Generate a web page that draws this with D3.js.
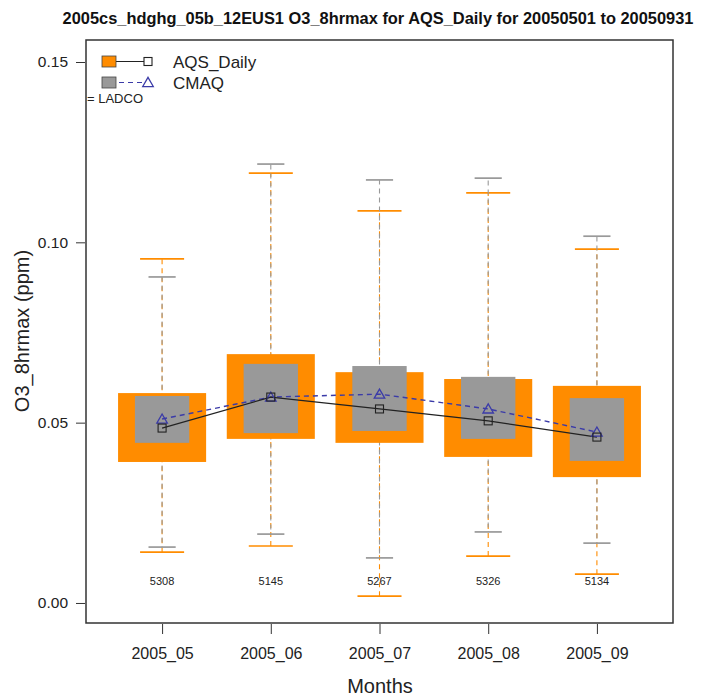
<!DOCTYPE html>
<html><head><meta charset="utf-8">
<script src="https://cdn.jsdelivr.net/npm/d3@7"></script>
<style>body{margin:0;background:#fff}svg{display:block}</style>
</head><body>
<script>
const months = ["2005_05","2005_06","2005_07","2005_08","2005_09"];
const counts = [5308,5145,5267,5326,5134];
const yTicks = [0.00,0.05,0.10,0.15];
const yTickLabels = ["0.00","0.05","0.10","0.15"];
// AQS_Daily (observations)
const aqsLo  = [0.0141,0.0158,0.0019,0.0130,0.0080];
const aqsQ1  = [0.0391,0.0455,0.0444,0.0405,0.0349];
const aqsMed = [0.0485,0.0571,0.0538,0.0505,0.0460];
const aqsQ3  = [0.0582,0.0690,0.0640,0.0621,0.0602];
const aqsHi  = [0.0954,0.1192,0.1087,0.1137,0.0981];
// CMAQ (model)
const cmaqLo  = [0.0155,0.0191,0.0125,0.0197,0.0166];
const cmaqQ1  = [0.0444,0.0471,0.0477,0.0455,0.0394];
const cmaqMed = [0.0510,0.0571,0.0579,0.0538,0.0474];
const cmaqQ3  = [0.0574,0.0663,0.0657,0.0627,0.0568];
const cmaqHi  = [0.0904,0.1217,0.1173,0.1178,0.1017];

const W = 717, H = 696;
const L = 86, R = 673, T = 40, B = 623;
const FONT = "'Liberation Sans', Arial, Helvetica, sans-serif";
const ORANGE = "#ff8c00", GRAY = "#999999", BLUE = "#3b3ba8";

const svg = d3.select("body").append("svg").attr("width", W).attr("height", H)
  .style("font-family", FONT);

const x = d3.scaleLinear().domain([0.3, 5.7]).range([L, R]);
const y = d3.scaleLinear().domain([-0.00555, 0.1561]).range([B, T]);
const idx = months.map((m, i) => i + 1);

function series(lo, q1, med, q3, hi, color, boxW) {
  return months.map((m, i) => ({i: i + 1, lo: lo[i], q1: q1[i], med: med[i], q3: q3[i], hi: hi[i], color, boxW}));
}
const aqs = series(aqsLo, aqsQ1, aqsMed, aqsQ3, aqsHi, ORANGE, 0.81);
const cmaq = series(cmaqLo, cmaqQ1, cmaqMed, cmaqQ3, cmaqHi, GRAY, 0.5);

const plot = svg.append("g");

function drawWhiskers(data, dashOffset) {
  const g = plot.append("g");
  data.forEach(d => {
    const cx = x(d.i);
    const cap = (x(d.boxW) - x(0)) / 2;
    g.append("line").attr("x1", cx).attr("x2", cx).attr("y1", y(d.lo)).attr("y2", y(d.hi))
      .attr("stroke", d.color).attr("stroke-width", 1.1).attr("stroke-dasharray", "5,4")
      .attr("stroke-dashoffset", dashOffset);
    [d.lo, d.hi].forEach(v => {
      g.append("line").attr("x1", cx - cap / 2).attr("x2", cx + cap / 2)
        .attr("y1", y(v)).attr("y2", y(v)).attr("stroke", d.color).attr("stroke-width", 1.7);
    });
  });
}
function drawBoxes(data) {
  plot.append("g").selectAll("rect").data(data).join("rect")
    .attr("x", d => x(d.i - d.boxW / 2))
    .attr("width", d => x(d.boxW) - x(0))
    .attr("y", d => y(d.q3))
    .attr("height", d => y(d.q1) - y(d.q3))
    .attr("fill", d => d.color);
}
drawWhiskers(aqs, 0);
drawWhiskers(cmaq, 4.5);
drawBoxes(aqs);
drawBoxes(cmaq);

// median lines
const line = d3.line().x(d => x(d.i)).y(d => y(d.med));
plot.append("path").datum(cmaq).attr("d", line).attr("fill", "none")
  .attr("stroke", BLUE).attr("stroke-width", 1.4).attr("stroke-dasharray", "5,4");
plot.append("path").datum(aqs).attr("d", line).attr("fill", "none")
  .attr("stroke", "#222").attr("stroke-width", 1.2);

const tri = d3.symbol().type(d3.symbolTriangle).size(48);
plot.append("g").selectAll("path").data(cmaq).join("path")
  .attr("d", tri).attr("transform", d => `translate(${x(d.i)},${y(d.med) + 1})`)
  .attr("fill", "none").attr("stroke", BLUE).attr("stroke-width", 1.3);
plot.append("g").selectAll("rect").data(aqs).join("rect")
  .attr("x", d => x(d.i) - 4).attr("y", d => y(d.med) - 4).attr("width", 8).attr("height", 8)
  .attr("fill", "none").attr("stroke", "#222").attr("stroke-width", 1.1);

// counts
svg.append("g").selectAll("text").data(counts).join("text")
  .attr("x", (d, i) => x(i + 1)).attr("y", 585).attr("text-anchor", "middle")
  .attr("font-size", 11).attr("fill", "#222").text(d => d);

// frame
svg.append("rect").attr("x", L).attr("y", T).attr("width", R - L).attr("height", B - T)
  .attr("fill", "none").attr("stroke", "#333").attr("stroke-width", 1.5);

// y axis
const yAxis = d3.axisLeft(y).tickValues(yTicks).tickFormat((d, i) => yTickLabels[i])
  .tickSize(9).tickPadding(8);
const yg = svg.append("g").attr("transform", `translate(${L - 1},0)`).call(yAxis);
yg.select(".domain").remove();
yg.selectAll("line").attr("stroke", "#333");
yg.selectAll("text").attr("font-size", 15.5).attr("font-family", FONT).attr("fill", "#222");

// x axis
const xAxis = d3.axisBottom(x).tickValues(idx).tickFormat((d, i) => months[i])
  .tickSize(10).tickPadding(14);
const xg = svg.append("g").attr("transform", `translate(0,${B + 1})`).call(xAxis);
xg.select(".domain").remove();
xg.selectAll("line").attr("stroke", "#333");
xg.selectAll("text").attr("font-size", 16).attr("font-family", FONT).attr("fill", "#222");

// titles
svg.append("text").attr("x", 378).attr("y", 24).attr("text-anchor", "middle")
  .attr("font-size", 16.4).attr("font-weight", "bold").attr("fill", "#111")
  .text("2005cs_hdghg_05b_12EUS1 O3_8hrmax for AQS_Daily for 20050501 to 20050931");
svg.append("text").attr("x", 380).attr("y", 693).attr("text-anchor", "middle")
  .attr("font-size", 20).attr("fill", "#222").text("Months");
svg.append("text").attr("transform", "translate(29,331) rotate(-90)").attr("text-anchor", "middle")
  .attr("font-size", 20).attr("fill", "#222").text("O3_8hrmax (ppm)");

// legend
const lg = svg.append("g");
const legendItems = [
  {label: "AQS_Daily", fill: ORANGE, stroke: "#222", dash: null, marker: "square", cy: 61.5},
  {label: "CMAQ", fill: GRAY, stroke: BLUE, dash: "5,4", marker: "triangle", cy: 82.5}
];
legendItems.forEach(it => {
  lg.append("line").attr("x1", 110).attr("x2", 148).attr("y1", it.cy).attr("y2", it.cy)
    .attr("stroke", it.stroke).attr("stroke-width", 1.2).attr("stroke-dasharray", it.dash);
  lg.append("rect").attr("x", 102).attr("y", it.cy - 5.5).attr("width", 14).attr("height", 11)
    .attr("fill", it.fill).attr("stroke", "#444").attr("stroke-width", 0.8);
  if (it.marker === "square") {
    lg.append("rect").attr("x", 144).attr("y", it.cy - 4).attr("width", 8).attr("height", 8)
      .attr("fill", "#fff").attr("stroke", "#222").attr("stroke-width", 1.1);
  } else {
    lg.append("path").attr("d", tri).attr("transform", `translate(148,${it.cy + 1})`)
      .attr("fill", "#fff").attr("stroke", BLUE).attr("stroke-width", 1.3);
  }
  lg.append("text").attr("x", 173).attr("y", it.cy + 6).attr("font-size", 17)
    .attr("fill", "#222").text(it.label);
});
lg.append("text").attr("x", 87).attr("y", 103).attr("font-size", 13).attr("fill", "#222").text("= LADCO");
</script>
</body></html>
